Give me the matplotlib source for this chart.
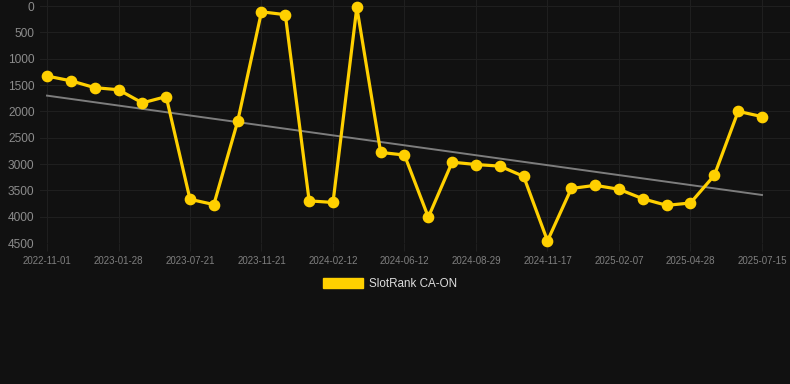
import numpy as np
import matplotlib
matplotlib.use("Agg")
import matplotlib.pyplot as plt
from matplotlib.patches import Patch

plt.rcParams['font.family'] = ['Liberation Sans', 'DejaVu Sans']

# rank values, one per snapshot (lower rank = better, axis is reversed)
ranks = [1330, 1420, 1550, 1590, 1840, 1720, 3670, 3770, 2190, 110,
         165, 3700, 3730, 25, 2780, 2830, 4010, 2965, 3010, 3040,
         3235, 4460, 3465, 3405, 3480, 3660, 3785, 3740, 3215, 2000,
         2100]
# only every 3rd date is labelled on the axis
tick_labels = ['2022-11-01', '2023-01-28', '2023-07-21', '2023-11-21',
               '2024-02-12', '2024-06-12', '2024-08-29', '2024-11-17',
               '2025-02-07', '2025-04-28', '2025-07-15']
yticks = [0, 500, 1000, 1500, 2000, 2500, 3000, 3500, 4000, 4500]
series_name = 'SlotRank CA-ON'

bg = '#111111'
yellow = '#ffd000'
gridc = '#1f1f1f'

x = np.arange(len(ranks))

fig = plt.figure(figsize=(7.9, 3.84), dpi=100, facecolor=bg)
ax = fig.add_axes([40/790, 1 - 243/384, 750/790, 243/384])
ax.set_facecolor(bg)

# linear trend through the ranks
k, b = np.polyfit(x, ranks, 1)
ax.plot(x, k*x + b, color='#7d7d7d', lw=1.4, zorder=2)

ax.plot(x, ranks, color=yellow, lw=2.3, marker='o', ms=7.4,
        zorder=3, clip_on=False)

ax.set_xlim(-7/23.83, 30 + 28/23.83)
ax.set_ylim(4500, -114)
ax.set_xticks(x[::3])
ax.set_xticklabels(tick_labels)
ax.set_yticks(yticks)

ax.grid(True, color=gridc, lw=0.8)
for s in ax.spines.values():
    s.set_visible(False)
ax.tick_params(axis='x', colors=gridc, labelcolor='#7f7f7f', labelsize=7,
               length=6, pad=3)
ax.tick_params(axis='y', length=0, labelcolor='#8c8c8c', labelsize=8.6, pad=4)

fig.legend(handles=[Patch(facecolor=yellow, edgecolor=yellow)],
           labels=[series_name], loc='center', bbox_to_anchor=(0.494, 0.26),
           frameon=False, fontsize=8.4, labelcolor='#dddddd',
           handlelength=3.4, handleheight=0.95, handletextpad=0.5)

fig.savefig('out.png', dpi=100, facecolor=bg)
